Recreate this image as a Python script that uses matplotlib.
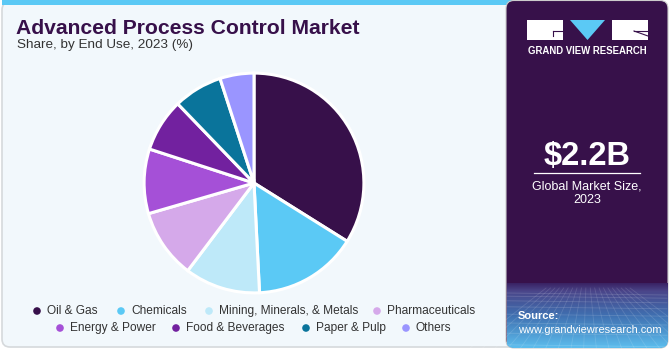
import numpy as np
import matplotlib.pyplot as plt
from matplotlib.patches import FancyBboxPatch, Rectangle, Polygon
import matplotlib.colors as mcolors

# market share by end use, 2023 (%)
segments = ["Oil & Gas", "Chemicals", "Mining, Minerals, & Metals", "Pharmaceuticals",
            "Energy & Power", "Food & Beverages", "Paper & Pulp", "Others"]
shares = [33.9, 15.3, 11.1, 10.2, 9.5, 7.8, 7.2, 5.0]
colors = ["#37104A", "#5BC9F5", "#BEE9F9", "#D5A9EA",
          "#A550D7", "#72219F", "#0A749B", "#9A95FF"]

title = "Advanced Process Control Market"
subtitle = "Share, by End Use, 2023 (%)"
market_size = "$2.2B"
size_label = "Global Market Size,\n2023"

# legend rows: (marker x, row y) in pixels
legend_pos = [(37, 311), (121, 311), (209, 311), (377, 311),
              (60, 328), (176, 328), (306, 328), (406, 328)]

W, H = 670, 350
FONT = "Liberation Sans"
PANEL = "#37114A"

fig = plt.figure(figsize=(W / 100, H / 100), dpi=100)
fig.patch.set_facecolor("white")

# full-figure axes working in pixel coordinates
bg = fig.add_axes([0, 0, 1, 1])
bg.set_xlim(0, W)
bg.set_ylim(H, 0)
bg.axis("off")

# left card with cyan top strip
card = FancyBboxPatch((2, 2), 520, 345, boxstyle="round,pad=0,rounding_size=8",
                      facecolor="#F2F8FC", edgecolor="#D6D9DC", linewidth=1.2, zorder=1)
bg.add_patch(card)
bg.add_patch(Rectangle((2, 0), 510, 4.5, facecolor="#5BC9F5", edgecolor="none", zorder=2))

# right panel
panel = FancyBboxPatch((506, 0.5), 162, 347.5, boxstyle="round,pad=0,rounding_size=8",
                       facecolor=PANEL, edgecolor="#CCCCCC", linewidth=0.8, zorder=3)
bg.add_patch(panel)

# fade at the bottom of the panel, drawn as thin horizontal strips
fade = mcolors.LinearSegmentedColormap.from_list(
    "fade", [(0.0, "#3A2364"), (0.12, "#4A4589"), (0.5, "#3F6FB0"), (1.0, "#5CBCEC")])
y0, y1 = 283, 347.5
n = 65
for i in range(n):
    ya = y0 + (y1 - y0) * i / n
    strip = Rectangle((507, ya), 160.5, (y1 - y0) / n + 0.3,
                      facecolor=fade(i / (n - 1)), edgecolor="none", zorder=4)
    strip.set_clip_path(panel)
    bg.add_patch(strip)

# faint mesh lines over the fade
for k in range(9):
    yy = 293 + k * k * 0.7 + k * 2.5
    bg.plot([507, 667], [yy, yy + 2], color="white", alpha=0.15, lw=0.6, zorder=5)
for xx in np.linspace(470, 710, 20):
    bg.plot([587 + (xx - 587) * 0.35, xx], [288, 348], color="white", alpha=0.13,
            lw=0.6, zorder=5)
bg.set_xlim(0, W)
bg.set_ylim(H, 0)

# logo
bg.add_patch(Rectangle((527, 20), 36, 20, facecolor="white", edgecolor="none", zorder=6))
bg.plot([553, 563], [31, 31], color=PANEL, lw=0.8, zorder=7)
bg.plot([553, 553], [31, 36], color=PANEL, lw=0.8, zorder=7)
bg.add_patch(Polygon([(570, 20), (605, 20), (587.5, 40)], closed=True,
                     facecolor="#5BC9F5", edgecolor="none", zorder=6))
bg.add_patch(Rectangle((612, 20), 36, 20, facecolor="white", edgecolor="none", zorder=6))
bg.plot([634, 648], [31, 36], color=PANEL, lw=0.8, zorder=7)
bg.plot([634, 648], [31, 31], color=PANEL, lw=0.8, zorder=7)
bg.text(587.5, 51, "GRAND VIEW RESEARCH", color="white", fontsize=6.9,
        fontweight="bold", family=FONT, ha="center", va="center", zorder=7)

# market size block
bg.text(587, 156, market_size, color="white", fontsize=23.5, fontweight="bold",
        family=FONT, ha="center", va="center", zorder=7)
bg.plot([534, 640], [173, 173], color="white", lw=0.9, zorder=7)
bg.text(587, 193, size_label, color="white", fontsize=9, family=FONT,
        ha="center", va="center", linespacing=1.15, zorder=7)

bg.text(518, 316, "Source:", color="white", fontsize=8, fontweight="bold",
        family=FONT, ha="left", va="center", zorder=7)
bg.text(518, 330, "www.grandviewresearch.com", color="white", fontsize=7.9,
        family=FONT, ha="left", va="center", zorder=7)

# titles
bg.text(16, 28, title, color="#37104A", fontsize=15.2, fontweight="bold",
        family=FONT, ha="left", va="center", zorder=7)
bg.text(17, 45, subtitle, color="#333333", fontsize=9.7, family=FONT,
        ha="left", va="center", zorder=7)

# legend
for (lx, ly), name, c in zip(legend_pos, segments, colors):
    bg.scatter([lx], [ly], s=30, color=c, edgecolors="none", zorder=7)
    bg.text(lx + 10, ly, name, color="#333333", fontsize=8.6, family=FONT,
            ha="left", va="center", zorder=7)

# pie
cx, cy, r = 254, 183, 111
pax = fig.add_axes([(cx - r) / W, 1 - (cy + r) / H, 2 * r / W, 2 * r / H])
pax.pie(shares, colors=colors, startangle=90, counterclock=False, radius=1,
        wedgeprops=dict(edgecolor="white", linewidth=2.2))
pax.set_xlim(-1.01, 1.01)
pax.set_ylim(-1.01, 1.01)
pax.set_aspect("equal")
pax.axis("off")

fig.savefig("out.png", dpi=100)
